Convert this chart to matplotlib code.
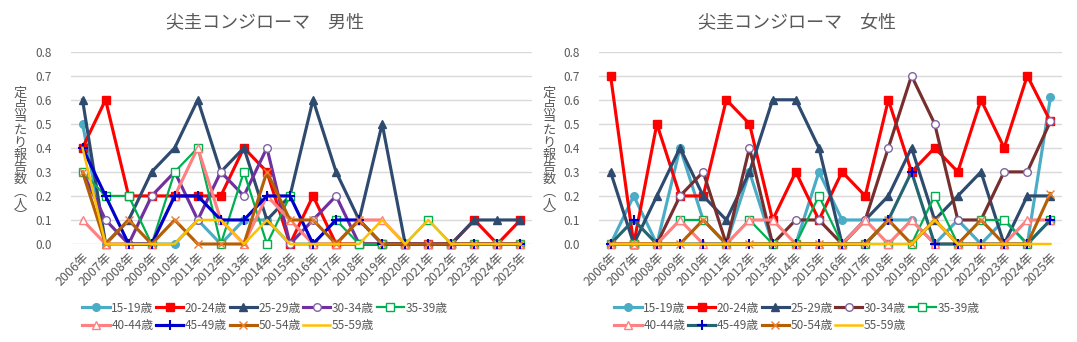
import matplotlib
matplotlib.use("Agg")
import matplotlib.pyplot as plt

plt.rcParams['font.family'] = ['Noto Sans CJK JP', 'DejaVu Sans']

years = ["2006年", "2007年", "2008年", "2009年", "2010年", "2011年", "2012年",
         "2013年", "2014年", "2015年", "2016年", "2017年", "2018年", "2019年",
         "2020年", "2021年", "2022年", "2023年", "2024年", "2025年"]
ages = ["15-19歳", "20-24歳", "25-29歳", "30-34歳", "35-39歳",
        "40-44歳", "45-49歳", "50-54歳", "55-59歳"]

# 男性
m15 = [0.5, 0, 0, 0, 0, 0.1, 0, 0.1, 0.1, 0, 0, 0, 0, 0, 0, 0, 0, 0, 0, 0]
m20 = [0.4, 0.6, 0.2, 0.2, 0.2, 0.2, 0.2, 0.4, 0.3, 0, 0.2, 0, 0, 0, 0, 0, 0, 0.1, 0, 0.1]
m25 = [0.6, 0, 0.1, 0.3, 0.4, 0.6, 0.3, 0.4, 0.1, 0.2, 0.6, 0.3, 0.1, 0.5, 0, 0, 0, 0.1, 0.1, 0.1]
m30 = [0.3, 0.1, 0, 0.2, 0.3, 0.1, 0.3, 0.2, 0.4, 0, 0.1, 0.2, 0, 0, 0, 0, 0, 0, 0, 0]
m35 = [0.3, 0.2, 0.2, 0, 0.3, 0.4, 0, 0.3, 0, 0.2, 0, 0.1, 0, 0, 0, 0.1, 0, 0, 0, 0]
m40 = [0.1, 0, 0, 0, 0.2, 0.4, 0.1, 0, 0.2, 0.1, 0, 0, 0.1, 0.1, 0, 0, 0, 0, 0, 0]
m45 = [0.4, 0.2, 0, 0, 0.2, 0.2, 0.1, 0.1, 0.2, 0.2, 0, 0.1, 0.1, 0, 0, 0, 0, 0, 0, 0]
m50 = [0.3, 0, 0.1, 0, 0.1, 0, 0, 0, 0.3, 0.1, 0.1, 0, 0.1, 0, 0, 0, 0, 0, 0, 0]
m55 = [0.4, 0, 0, 0, 0, 0.1, 0.1, 0, 0.1, 0, 0, 0, 0, 0.1, 0, 0.1, 0, 0, 0, 0]

# 女性
f15 = [0, 0.2, 0, 0.4, 0.1, 0, 0.3, 0, 0, 0.3, 0.1, 0.1, 0.1, 0.1, 0, 0.1, 0, 0.1, 0, 0.61]
f20 = [0.7, 0, 0.5, 0.2, 0.2, 0.6, 0.5, 0.1, 0.3, 0.1, 0.3, 0.2, 0.6, 0.3, 0.4, 0.3, 0.6, 0.4, 0.7, 0.51]
f25 = [0.3, 0, 0.2, 0.4, 0.2, 0.1, 0.3, 0.6, 0.6, 0.4, 0, 0.1, 0.2, 0.4, 0.1, 0.2, 0.3, 0, 0.2, 0.2]
f30 = [0, 0, 0, 0.2, 0.3, 0, 0.4, 0, 0.1, 0.1, 0, 0.1, 0.4, 0.7, 0.5, 0.1, 0.1, 0.3, 0.3, 0.51]
f35 = [0, 0, 0, 0.1, 0.1, 0, 0.1, 0, 0, 0.2, 0, 0, 0, 0, 0.2, 0, 0.1, 0.1, 0, 0.1]
f40 = [0, 0, 0, 0.1, 0, 0, 0.1, 0.1, 0, 0, 0, 0.1, 0, 0.1, 0, 0, 0, 0, 0.1, 0.1]
f45 = [0, 0.1, 0, 0, 0, 0, 0, 0, 0, 0, 0, 0, 0.1, 0.3, 0, 0, 0, 0, 0, 0.1]
f50 = [0, 0, 0, 0, 0.1, 0, 0, 0, 0, 0, 0, 0, 0.1, 0, 0.1, 0, 0.1, 0, 0, 0.21]
f55 = [0, 0, 0, 0, 0, 0, 0, 0, 0, 0, 0, 0, 0, 0, 0.1, 0, 0, 0, 0, 0]

male = [m15, m20, m25, m30, m35, m40, m45, m50, m55]
female = [f15, f20, f25, f30, f35, f40, f45, f50, f55]

gray = '#595959'

# (marker, facecolor, edgecolor, linewidth)
marks = [('o', '#4BACC6', '#4BACC6', 2.25),
         ('s', '#FF0000', '#FF0000', 2.25),
         ('^', '#2E4A6E', '#2E4A6E', 2.25),
         ('o', 'white', '#8064A2', 2.25),
         ('s', 'white', '#00B050', 1.6),
         ('^', 'white', '#FF8080', 2.25),
         ('+', '#0000CC', '#0000CC', 2.25),
         ('x', '#ED7D31', '#ED7D31', 2.25),
         ('', 'none', 'none', 1.8)]
male_colors = ['#4BACC6', '#FF0000', '#2E4A6E', '#7030A0', '#00B050',
               '#FF8080', '#0000CC', '#B45F06', '#FFC000']
female_colors = ['#4BACC6', '#FF0000', '#2E4A6E', '#772E2E', '#00B050',
                 '#FF8080', '#236570', '#B45F06', '#FFC000']

fig = plt.figure(figsize=(10.77, 3.42), dpi=100)
W, H = 1077, 342
ax_m = fig.add_axes([71 / W, 1 - 244 / H, 461 / W, 192.3 / H])
ax_f = fig.add_axes([599 / W, 1 - 244 / H, 463 / W, 192.3 / H])

panels = [(ax_m, male, male_colors, '尖圭コンジローマ　男性', 265, 20),
          (ax_f, female, female_colors, '尖圭コンジローマ　女性', 797, 549)]

ylab = '\n'.join('定点当たり報告数︵人︶')

for ax, series, colors, title, cx, lx in panels:
    x = list(range(len(years)))
    handles = []
    for vals, col, (mk, fc, ec, lw), lab in zip(series, colors, marks, ages):
        mew = 1.5 if mk == '+' else 1.0
        h, = ax.plot(x, vals, color=col, lw=lw, marker=mk if mk else None,
                     markersize=5.5 if mk != '+' else 7, markerfacecolor=fc,
                     markeredgecolor=ec, markeredgewidth=mew, label=lab,
                     clip_on=False)
        handles.append(h)
    ax.set_xlim(-0.5, len(years) - 0.5)
    ax.set_ylim(0, 0.8)
    ax.set_yticks([i / 10 for i in range(9)])
    ax.set_yticklabels([f'{i / 10:.1f}' for i in range(9)])
    ax.set_xticks(x)
    ax.set_xticklabels(years, rotation=45, ha='right', va='top',
                       rotation_mode='anchor')
    ax.grid(axis='y', color='#D9D9D9', lw=1)
    ax.set_axisbelow(True)
    for s in ax.spines.values():
        s.set_visible(False)
    ax.tick_params(axis='both', length=0, colors=gray, labelsize=8.5)
    ax.tick_params(axis='x', labelsize=9, pad=5)
    ax.tick_params(axis='y', pad=14)

    order = [0, 5, 1, 6, 2, 7, 3, 8, 4]
    fig.legend([handles[i] for i in order], [ages[i] for i in order],
               loc='upper center', bbox_to_anchor=(cx / W, 1 - 291 / H),
               ncol=5, frameon=False, fontsize=8.5, handlelength=2.3,
               handletextpad=0.15, columnspacing=0.2, labelspacing=0.4,
               labelcolor=gray)
    fig.text(cx / W, 1 - 22 / H, title, ha='center', va='center',
             fontsize=13, color=gray)
    fig.text(lx / W, 1 - 155 / H, ylab, ha='center', va='center',
             fontsize=9.5, color=gray, linespacing=0.94)

fig.savefig('out.png', dpi=100)
